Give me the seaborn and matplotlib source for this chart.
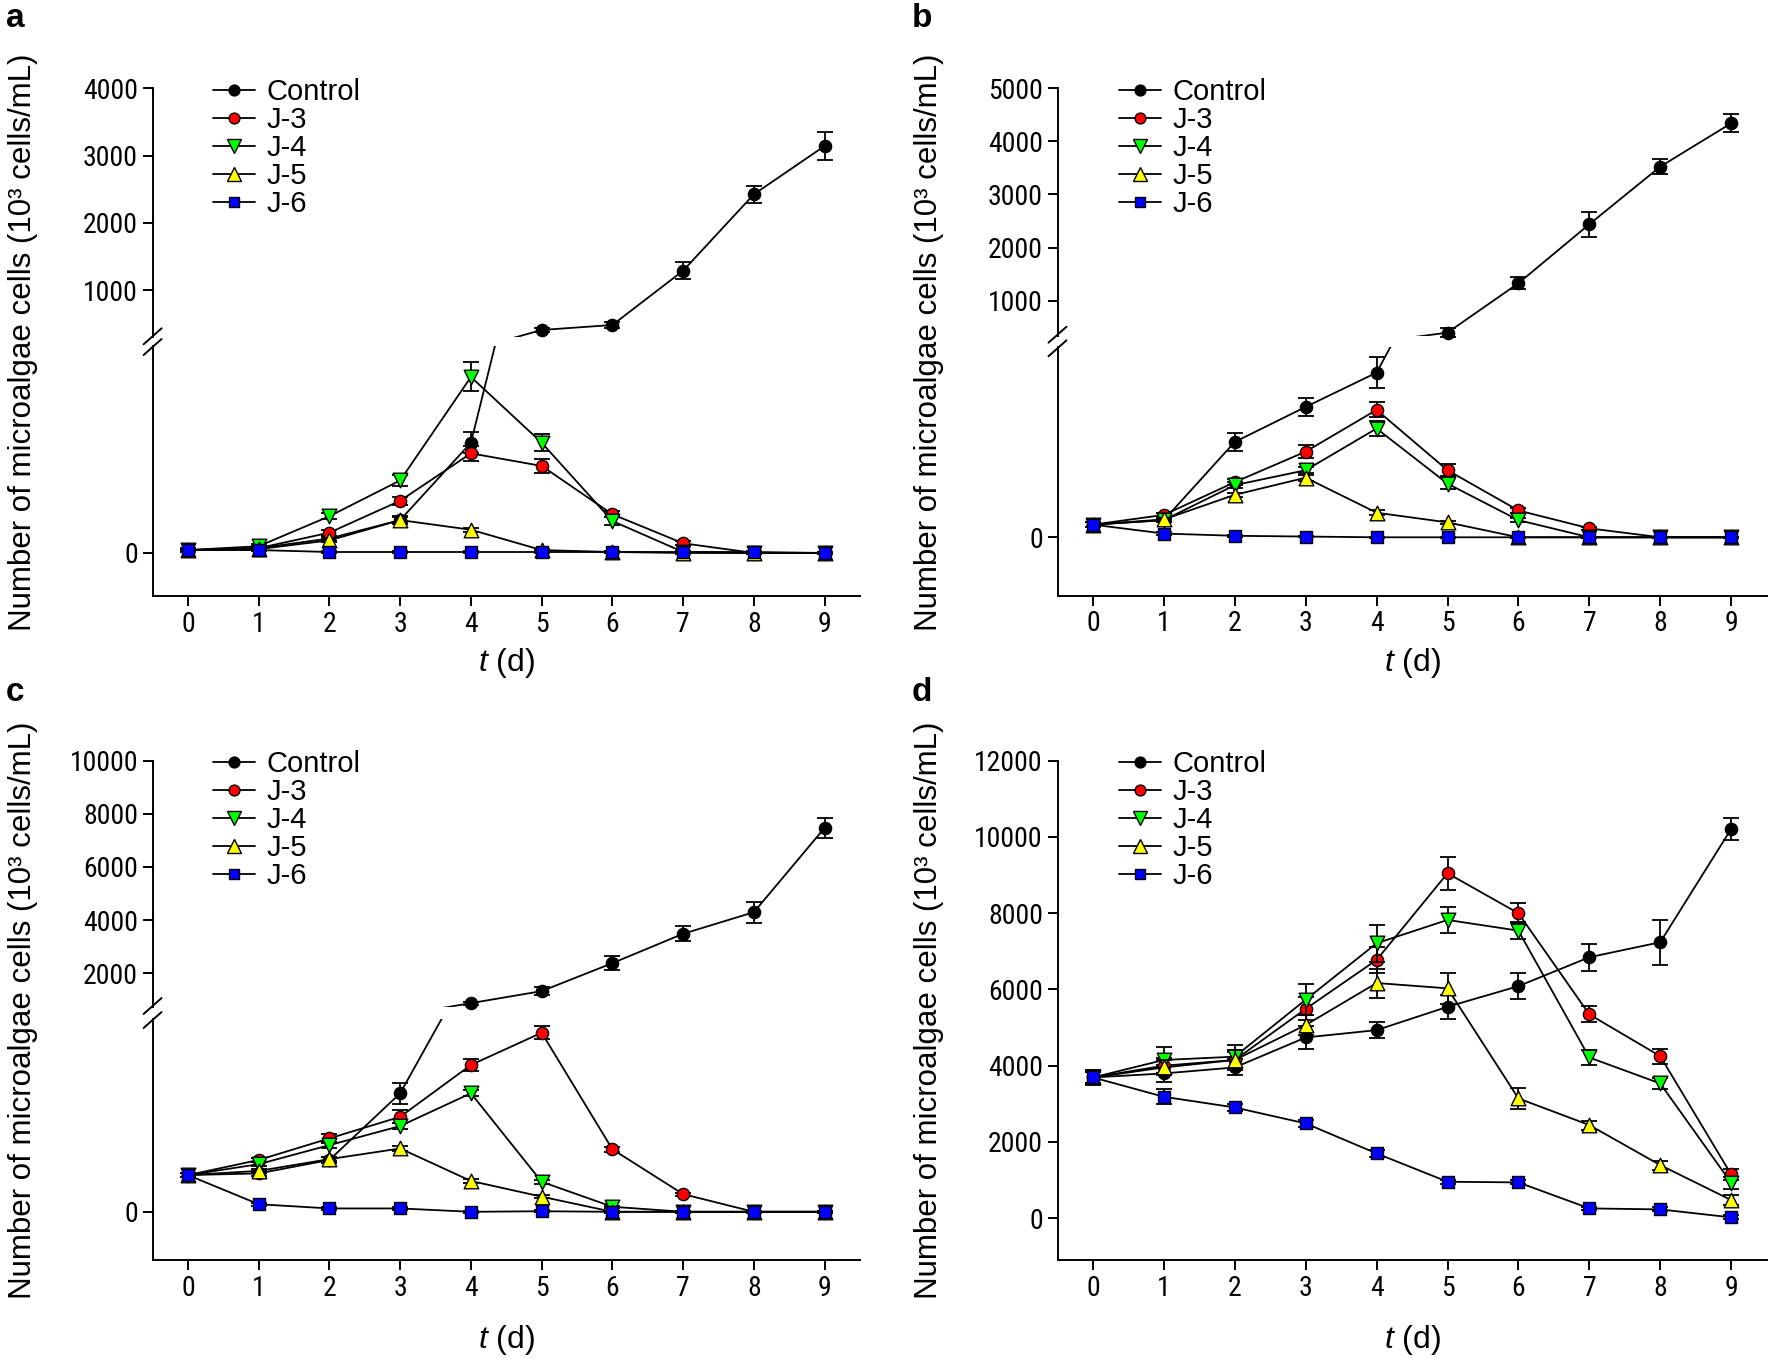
import numpy as np
import pandas as pd
import matplotlib
matplotlib.use("Agg")
import matplotlib.pyplot as plt
from matplotlib.lines import Line2D
import seaborn as sns

# ---------------- data (10^3 cells/mL) ----------------
days = [0, 1, 2, 3, 4, 5, 6, 7, 8, 9]
series_names = ["Control", "J-3", "J-4", "J-5", "J-6"]

# panel a
a_control = [3, 5, 15, 34, 114, 409, 483, 1290, 2425, 3143]
a_control_err = [2, 2, 3, 4, 11, 30, 40, 130, 130, 215]
a_j3 = [3, 5, 21, 54, 103, 90, 40, 10, 0, 0]
a_j3_err = [1, 1, 3, 4, 8, 7, 3, 2, 1, 1]
a_j4 = [3, 7, 38, 75, 182, 114, 33, 1, 0, 0]
a_j4_err = [1, 2, 3, 6, 15, 9, 4, 1, 1, 1]
a_j5 = [3, 4, 13, 34, 24, 3, 1, 0, 0, 0]
a_j5_err = [1, 1, 2, 3, 2, 1, 1, 1, 1, 1]
a_j6 = [3, 3, 1, 1, 1, 1, 1, 1, 1, 0]
a_j6_err = [1, 1, 1, 1, 1, 1, 1, 1, 1, 1]

# panel b
b_control = [17, 23, 128, 175, 221, 398, 1328, 2439, 3524, 4341]
b_control_err = [3, 3, 12, 12, 21, 85, 110, 235, 140, 170]
b_j3 = [17, 30, 74, 115, 171, 90, 36, 12, 0, 0]
b_j3_err = [3, 3, 4, 9, 10, 8, 3, 2, 1, 1]
b_j4 = [17, 23, 70, 90, 146, 72, 23, 0, 0, 0]
b_j4_err = [3, 2, 4, 4, 10, 7, 3, 1, 1, 1]
b_j5 = [17, 24, 57, 80, 33, 20, 0, 0, 0, 0]
b_j5_err = [3, 2, 3, 4, 3, 2, 1, 1, 1, 1]
b_j6 = [17, 5, 2, 1, 0, 0, 0, 0, 0, 0]
b_j6_err = [3, 2, 1, 1, 1, 1, 1, 1, 1, 1]

# panel c
c_control = [131, 137, 185, 423, 876, 1327, 2380, 3485, 4297, 7470]
c_control_err = [8, 8, 10, 38, 60, 150, 250, 290, 390, 380]
c_j3 = [131, 185, 262, 339, 524, 639, 223, 63, 0, 0]
c_j3_err = [8, 8, 15, 23, 22, 24, 10, 5, 3, 3]
c_j4 = [131, 170, 238, 306, 423, 107, 18, 0, 0, 0]
c_j4_err = [8, 8, 10, 10, 10, 8, 4, 3, 3, 3]
c_j5 = [131, 146, 188, 226, 110, 54, 0, 0, 0, 0]
c_j5_err = [8, 6, 8, 8, 8, 6, 3, 3, 3, 3]
c_j6 = [131, 27, 12, 12, 0, 2, 0, 0, 0, 0]
c_j6_err = [8, 5, 4, 4, 3, 3, 3, 3, 3, 3]

# panel d
d_control = [3692, 3797, 3954, 4740, 4933, 5544, 6086, 6844, 7237, 10207]
d_control_err = [150, 230, 210, 290, 215, 320, 350, 350, 590, 290]
d_j3 = [3692, 4000, 4150, 5490, 6773, 9046, 7997, 5345, 4250, 1150]
d_j3_err = [150, 200, 200, 300, 350, 430, 260, 210, 200, 150]
d_j4 = [3692, 4150, 4237, 5730, 7211, 7822, 7541, 4215, 3534, 930]
d_j4_err = [150, 350, 300, 400, 480, 350, 230, 200, 150, 150]
d_j5 = [3692, 3954, 4150, 5067, 6168, 6028, 3142, 2443, 1394, 477]
d_j5_err = [150, 200, 250, 250, 380, 400, 285, 120, 120, 120]
d_j6 = [3692, 3185, 2905, 2486, 1700, 957, 940, 258, 232, 23]
d_j6_err = [200, 200, 100, 100, 100, 50, 50, 50, 50, 50]

a_ticks = [1000, 2000, 3000, 4000]
b_ticks = [1000, 2000, 3000, 4000, 5000]
c_ticks = [2000, 4000, 6000, 8000, 10000]
d_ticks = [0, 2000, 4000, 6000, 8000, 10000, 12000]

y_label = "Number of microalgae cells (10\u00b3 cells/mL)"
x_label = "$t$ (d)"


def make_df(vals, errs):
    rows = []
    for name, v, e in zip(series_names, vals, errs):
        for d, vv, ee in zip(days, v, e):
            rows.append({"day": d, "value": vv, "err": ee, "series": name})
    return pd.DataFrame(rows)


df_a = make_df([a_control, a_j3, a_j4, a_j5, a_j6],
               [a_control_err, a_j3_err, a_j4_err, a_j5_err, a_j6_err])
df_b = make_df([b_control, b_j3, b_j4, b_j5, b_j6],
               [b_control_err, b_j3_err, b_j4_err, b_j5_err, b_j6_err])
df_c = make_df([c_control, c_j3, c_j4, c_j5, c_j6],
               [c_control_err, c_j3_err, c_j4_err, c_j5_err, c_j6_err])
df_d = make_df([d_control, d_j3, d_j4, d_j5, d_j6],
               [d_control_err, d_j3_err, d_j4_err, d_j5_err, d_j6_err])

# ---------------- style ----------------
sns.set_style("ticks", {"axes.edgecolor": "black", "xtick.color": "black",
                        "ytick.color": "black", "text.color": "black"})
TICK_FAMILY = ["Liberation Sans Narrow", "Arial Narrow", "Roboto Condensed",
               "Liberation Sans", "DejaVu Sans"]
SANS = ["Liberation Sans", "DejaVu Sans"]
plt.rcParams["font.family"] = TICK_FAMILY
plt.rcParams["mathtext.fontset"] = "custom"
plt.rcParams["mathtext.it"] = "Liberation Sans:italic"
plt.rcParams["mathtext.rm"] = "Liberation Sans"

W, H = 1772, 1359
fig = plt.figure(figsize=(W / 100, H / 100), dpi=100)
fig.patch.set_facecolor("white")


def rect(l, r, t, b):
    return [l / W, 1 - b / H, (r - l) / W, (b - t) / H]


colors = {"Control": "black", "J-3": "#FF0000", "J-4": "#00FF00",
          "J-5": "#FFFF00", "J-6": "#0000FF"}
markers = {"Control": "o", "J-3": "o", "J-4": "v", "J-5": "^", "J-6": "s"}
msize = {"Control": 8.8, "J-3": 8.8, "J-4": 10.5, "J-5": 10.5, "J-6": 8.3}
TICK_FS = 20


def draw_series(ax, df, ylo, yhi):
    for i, name in enumerate(series_names):
        sub = df[df.series == name]
        z = 3 + i * 0.1
        sns.lineplot(data=sub, x="day", y="value", color="black", lw=1.3,
                     ax=ax, zorder=z, legend=False, errorbar=None,
                     estimator=None, sort=False)
        inr = sub[(sub.value >= ylo) & (sub.value <= yhi)]
        if len(inr):
            cont = ax.errorbar(inr.day, inr.value, yerr=inr.err, fmt="none",
                               ecolor="black", elinewidth=1.3, capsize=5.5,
                               capthick=1.3, zorder=z + 0.01)
            for art in cont.get_children():
                art.set_clip_on(False)
            sns.scatterplot(data=inr, x="day", y="value", marker=markers[name],
                            color=colors[name], edgecolor="black", linewidth=1.0,
                            s=msize[name] ** 2, ax=ax, zorder=z + 0.02,
                            legend=False, clip_on=False)
    ax.set_xlabel("")
    ax.set_ylabel("")


def style_axis(ax):
    for s in ["top", "right"]:
        ax.spines[s].set_visible(False)
    for s in ["left", "bottom"]:
        ax.spines[s].set_linewidth(1.4)
        ax.spines[s].set_color("black")
    ax.tick_params(direction="out", length=7, width=1.4, labelsize=TICK_FS,
                   pad=3.5, color="black", labelcolor="black")
    ax.set_facecolor("none")
    ax.set_xlim(-0.5, 9.5)
    ax.set_xticks(days)


def break_marks(x, y):
    for yy in y:
        fig.add_artist(Line2D([(x - 9) / W, (x + 9) / W],
                              [1 - (yy + 8) / H, 1 - (yy - 8) / H],
                              transform=fig.transFigure, color="black", lw=1.4))


def broken_panel(df, left, right, up_top, up_bot, lo_top, lo_bot,
                 up_lim, lo_lim, up_ticks):
    ax_up = fig.add_axes(rect(left, right, up_top, up_bot))
    ax_lo = fig.add_axes(rect(left, right, lo_top, lo_bot))
    draw_series(ax_up, df, *up_lim)
    draw_series(ax_lo, df, *lo_lim)
    for ax in (ax_up, ax_lo):
        style_axis(ax)
    ax_up.set_ylim(*up_lim)
    ax_lo.set_ylim(*lo_lim)
    ax_up.set_yticks(up_ticks)
    ax_up.set_yticklabels([str(t) for t in up_ticks])
    ax_up.spines["bottom"].set_visible(False)
    ax_up.tick_params(axis="x", bottom=False, labelbottom=False)
    ax_lo.set_yticks([0])
    ax_lo.set_yticklabels(["0"])
    break_marks(left, [up_bot - 1, lo_top + 1])
    return ax_up, ax_lo


def add_legend(x, y):
    handles = []
    for n in series_names:
        ms = {"o": 7.8, "v": 9.5, "^": 9.5, "s": 7.5}[markers[n]]
        handles.append(Line2D([], [], color="black", lw=1.3, marker=markers[n],
                              markerfacecolor=colors[n], markeredgecolor="black",
                              markeredgewidth=1.0, markersize=ms, label=n))
    fig.legend(handles=handles, loc="upper left",
               bbox_to_anchor=(x / W, 1 - y / H), frameon=False,
               prop={"family": SANS, "size": 21}, handlelength=1.45,
               handletextpad=0.4, labelspacing=0.0, borderpad=0,
               borderaxespad=0)


# ---- panel a ----
broken_panel(df_a, 152.6, 860, 88.3, 337.3, 346, 596,
             (300, 4000), (-44.5, 214), a_ticks)
# ---- panel b ----
broken_panel(df_b, 1057.5, 1766.6, 88.3, 335.7, 347.3, 595.7,
             (340, 5000), (-78.4, 255), b_ticks)
# ---- panel c ----
broken_panel(df_c, 152.6, 860, 760.6, 1007, 1019, 1260,
             (730, 10000), (-172, 688), c_ticks)
# ---- panel d ----
ax_d = fig.add_axes(rect(1057.5, 1766.6, 760.6, 1260.2))
draw_series(ax_d, df_d, -np.inf, np.inf)
style_axis(ax_d)
ax_d.set_ylim(-1100, 12000)
ax_d.set_yticks(d_ticks)
ax_d.set_yticklabels([str(t) for t in d_ticks])

# legends
add_legend(212.5, 78)
add_legend(1119, 78)
add_legend(212.5, 750)
add_legend(1119, 750)

# axis labels
for xc, yc in [(22.6, 342), (929, 342), (22.6, 1010), (929, 1010)]:
    fig.text(xc / W, 1 - yc / H, y_label, rotation=90, ha="center", va="center",
             fontsize=22.5, family=SANS)
for xc, yc in [(506, 663), (1412, 663), (506, 1340), (1412, 1340)]:
    fig.text(xc / W, 1 - yc / H, x_label, ha="center", va="center",
             fontsize=23, family=SANS)

# panel letters
for lab, xc, yc in [("a", 6, 27), ("b", 912, 27), ("c", 6, 701), ("d", 912, 701)]:
    fig.text(xc / W, 1 - yc / H, lab, ha="left", va="baseline", fontsize=24,
             fontweight="bold", family=SANS)

fig.savefig("out.png", dpi=100, facecolor="white")
